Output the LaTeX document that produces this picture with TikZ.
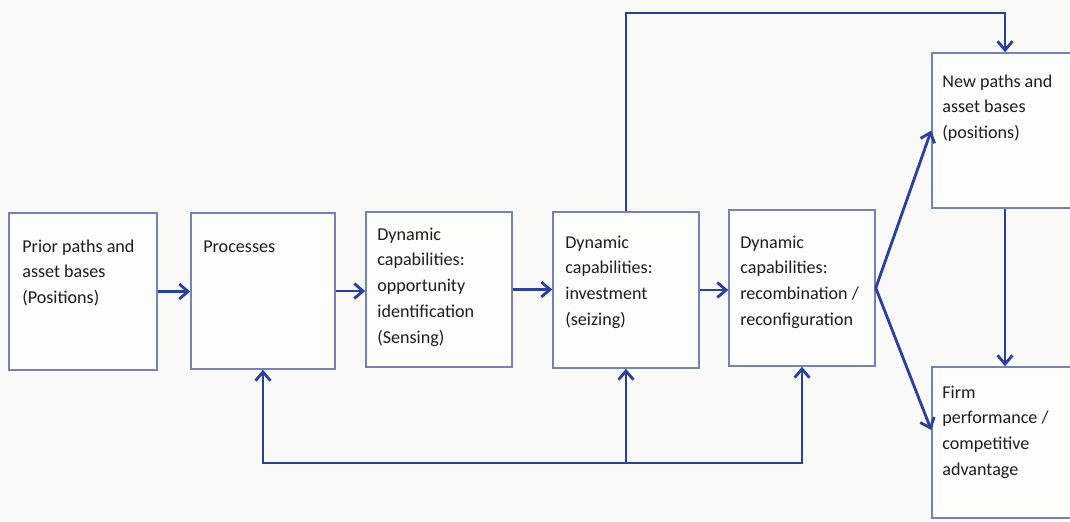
\documentclass[tikz,border=0pt]{standalone}
\usepackage{fontspec}
\setmainfont{Carlito}
\usetikzlibrary{arrows.meta}
\definecolor{flow}{HTML}{2B3F9C}
\definecolor{frame}{HTML}{7482B8}
\definecolor{ink}{HTML}{1E1E22}
\definecolor{paper}{HTML}{F9F9F7}
\begin{document}
\begin{tikzpicture}[x=0.02cm, y=-0.02cm,
  box/.style={draw=frame, line width=0.9pt, fill=white!60!paper, inner sep=0pt,
              minimum width=2.92cm, minimum height=3.12cm},
  lbl/.style={anchor=base west, inner sep=0pt, text=ink,
              font=\fontsize{10.3}{14.7}\selectfont},
  arr/.style={draw=flow, line width=1.6pt,
              -{Straight Barb[length=5pt, width=8.5pt]}},
  feed/.style={draw=flow, line width=1.6pt}]
  % canvas
  \fill[paper] (0,0) rectangle (1070,521);
  \clip (0,0) rectangle (1070,521);

  % boxes
  \node[box, minimum width=2.96cm, minimum height=3.14cm] (B1) at (83,291.5) {};
  \node[box, minimum width=2.88cm, minimum height=3.12cm] (B2) at (263,291) {};
  \node[box, minimum height=3.10cm] (B3) at (439,289.5) {};
  \node[box] (B4) at (626,290) {};
  \node[box] (B5) at (802,288) {};
  \node[box, minimum height=3.10cm] (B6) at (1005,130.5) {};
  \node[box, minimum height=3.02cm] (B7) at (1005,442.5) {};

  % box texts
  \node[lbl] (T1) at (22,252) {\parbox[t]{2.8cm}{Prior paths and\\asset bases\\(Positions)}};
  \node[lbl] (T2) at (203,252) {\parbox[t]{2.8cm}{Processes}};
  \node[lbl] (T3) at (377,240) {\parbox[t]{2.8cm}{Dynamic\\capabilities:\\opportunity\\identification\\(Sensing)}};
  \node[lbl] (T4) at (565,248) {\parbox[t]{2.8cm}{Dynamic\\capabilities:\\investment\\(seizing)}};
  \node[lbl] (T5) at (740,248) {\parbox[t]{2.8cm}{Dynamic\\capabilities:\\recombination /\\reconfiguration}};
  \node[lbl] (T6) at (942,87) {\parbox[t]{2.8cm}{New paths and\\asset bases\\(positions)}};
  \node[lbl] (T7) at (942,398) {\parbox[t]{2.8cm}{Firm\\performance /\\competitive\\advantage}};

  % main chain
  \draw[arr] (B1.east) -- (B1.east -| B2.west);
  \draw[arr] (B2.east) -- (B2.east -| B3.west);
  \draw[arr] (B3.east) -- (B3.east -| B4.west);
  \draw[arr] (B4.east) -- (B4.east -| B5.west);

  % bypass over the top into the new positions
  \coordinate (over) at (700,13);
  \draw[arr] (B4.north) |- (over) -| (B6.north);

  % outcomes
  \coordinate (B7in) at ([yshift=0.25cm]B7.west);
  \draw[arr] (B5.east) -- (B6.west);
  \draw[arr] (B5.east) -- (B7in);
  \draw[arr] (B6.south) -- (B7.north);

  % feedback loop underneath
  \coordinate (fb) at (626,463);
  \draw[arr] (fb) -| (B2.south);
  \draw[arr] (fb) -| (B5.south);
  \draw[arr] (fb) -- (B4.south);
\end{tikzpicture}
\end{document}
